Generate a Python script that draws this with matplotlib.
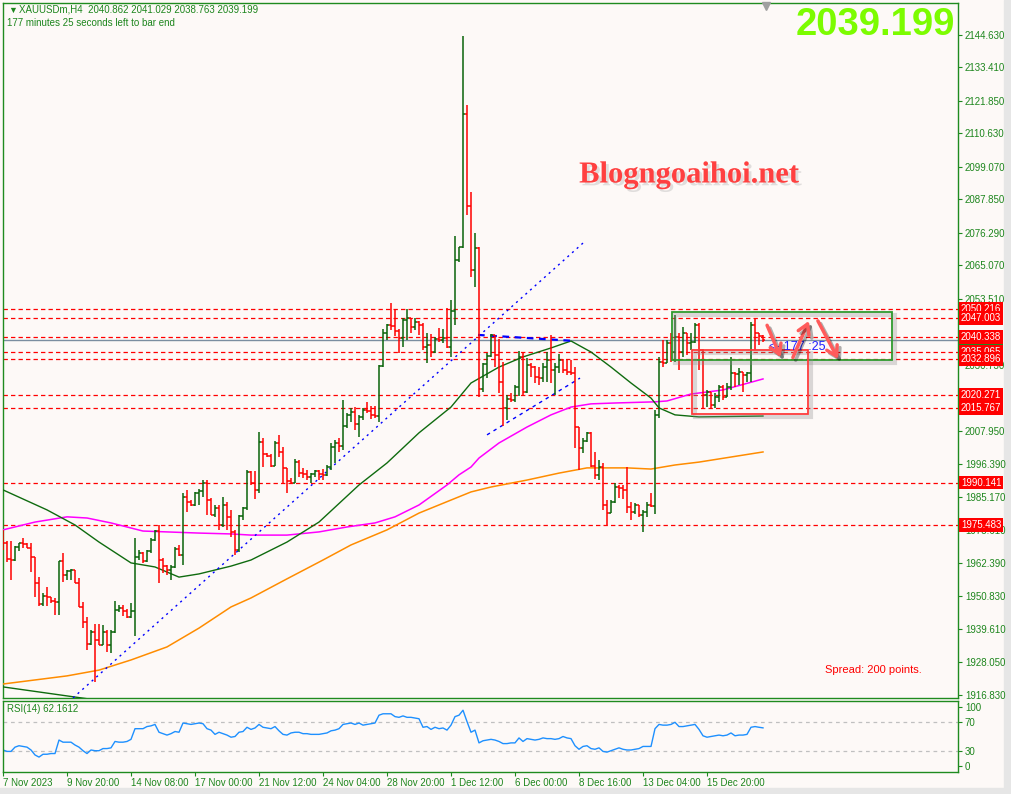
import matplotlib
matplotlib.use('Agg')
import matplotlib.pyplot as plt
import matplotlib.patheffects as pe
from matplotlib.collections import LineCollection
from matplotlib.patches import Rectangle, FancyArrowPatch

plt.rcParams['font.family'] = ['Liberation Sans', 'DejaVu Sans']

# ---- XAUUSDm H4 bars (one per 4h, oldest first) ----
first_open = 1972.04
highs = [
    1973.76, 1969.97, 1969.97, 1968.25, 1969.28, 1971.0, 1969.28, 1969.28, 1964.45, 1957.54,
    1952.02, 1954.09, 1950.64, 1950.29, 1963.07, 1965.83, 1960.01, 1960.35, 1960.01, 1957.19,
    1948.91, 1943.73, 1939.25, 1941.32, 1941.32, 1940.97, 1939.25, 1939.25, 1949.25, 1947.87,
    1947.87, 1946.49, 1948.56, 1971.0, 1966.86, 1966.17, 1966.86, 1971.0, 1973.76, 1975.49,
    1964.1, 1961.69, 1961.69, 1967.9, 1968.59, 1986.54, 1987.57, 1984.12, 1986.88, 1987.92,
    1991.03, 1991.03, 1984.81, 1982.39, 1982.39, 1985.16, 1983.43, 1980.67, 1973.76, 1978.94,
    1981.7, 1994.48, 1994.13, 1994.13, 2007.59, 2005.52, 2000.34, 1999.99, 2004.48, 2006.55,
    2002.42, 1995.17, 1991.72, 1998.27, 1997.92, 1995.17, 1994.48, 1993.44, 1994.48, 1994.48,
    1994.82, 1996.2, 2003.79, 2004.83, 2005.52, 2018.64, 2014.15, 2015.88, 2016.22, 2013.46,
    2015.88, 2017.95, 2016.57, 2016.57, 2030.72, 2043.15, 2044.88, 2052.12, 2049.71, 2043.15,
    2046.95, 2050.05, 2046.95, 2046.95, 2045.91, 2045.22, 2041.77, 2041.42, 2040.39, 2043.49,
    2043.15, 2050.4, 2053.16, 2075.24, 2071.45, 2144.28, 2120.46, 2090.43, 2076.28, 2071.45,
    2031.41, 2034.87, 2041.42, 2039.36, 2039.7, 2031.76, 2020.37, 2021.06, 2023.82, 2035.56,
    2034.87, 2033.14, 2031.41, 2030.37, 2030.03, 2031.41, 2035.21, 2041.08, 2031.41, 2034.52,
    2032.79, 2032.79, 2032.45, 2030.03, 2009.32, 2005.52, 2007.59, 2007.59, 2000.69, 1997.92,
    1996.89, 1984.12, 1984.12, 1990.0, 1989.3, 1989.3, 1995.51, 1983.43, 1983.09, 1982.39,
    1980.67, 1983.43, 1986.54, 2015.19, 2033.48, 2039.36, 2039.36, 2041.77, 2047.98, 2041.77,
    2043.84, 2039.36, 2041.77, 2045.22, 2045.22, 2036.2, 2022.09, 2021.06, 2021.06, 2023.82,
    2023.82, 2024.51, 2033.48, 2028.3, 2029.68, 2027.96, 2028.3, 2045.57, 2046.95, 2041.77,
    2041.03]
lows = [
    1966.86, 1962.72, 1956.5, 1963.07, 1966.52, 1967.55, 1967.55, 1959.27, 1950.64, 1947.53,
    1947.53, 1947.53, 1948.56, 1944.42, 1944.42, 1955.82, 1956.5, 1956.5, 1955.47, 1947.18,
    1939.94, 1932.34, 1934.16, 1921.29, 1934.07, 1934.07, 1931.65, 1931.31, 1938.21, 1945.46,
    1944.08, 1943.39, 1943.39, 1937.17, 1963.41, 1962.38, 1962.72, 1965.83, 1969.97, 1955.47,
    1958.92, 1958.23, 1956.5, 1960.65, 1964.79, 1961.69, 1979.98, 1982.05, 1982.05, 1982.39,
    1985.16, 1978.94, 1978.94, 1978.25, 1973.76, 1974.8, 1973.76, 1971.35, 1965.14, 1966.17,
    1977.22, 1980.67, 1989.3, 1984.47, 1986.54, 1995.51, 1998.96, 1995.51, 1995.86, 1998.96,
    1990.0, 1986.54, 1989.65, 1990.0, 1992.06, 1991.72, 1991.03, 1990.0, 1992.06, 1991.03,
    1991.03, 1992.41, 1994.48, 1996.89, 2000.69, 2001.38, 2008.98, 2011.05, 2008.29, 2005.86,
    2011.74, 2014.15, 2012.08, 2012.43, 2011.05, 2030.03, 2039.36, 2042.8, 2040.73, 2034.87,
    2036.94, 2039.36, 2041.77, 2042.8, 2041.08, 2035.9, 2031.41, 2033.48, 2034.87, 2038.67,
    2038.32, 2036.6, 2033.48, 2044.53, 2066.26, 2071.11, 2082.49, 2061.09, 2057.64, 2019.68,
    2021.4, 2026.24, 2033.48, 2030.03, 2021.06, 2009.67, 2011.74, 2017.95, 2017.95, 2020.02,
    2020.37, 2021.06, 2026.58, 2024.51, 2023.82, 2024.85, 2024.85, 2024.51, 2020.37, 2027.96,
    2027.96, 2027.27, 2027.27, 2002.07, 1994.48, 2000.34, 2004.14, 1995.51, 1991.37, 1991.03,
    1980.67, 1975.49, 1979.98, 1983.09, 1984.81, 1984.47, 1979.63, 1977.22, 1979.29, 1978.25,
    1973.07, 1978.25, 1981.7, 1979.29, 2012.43, 2030.03, 2031.76, 2031.76, 2031.76, 2028.99,
    2033.48, 2034.18, 2035.9, 2038.32, 2028.99, 2015.88, 2016.22, 2015.88, 2015.88, 2017.95,
    2018.64, 2019.68, 2022.09, 2023.13, 2023.82, 2021.4, 2024.85, 2024.85, 2035.9, 2037.63,
    2038.76]
closes = [
    1969.28, 1963.76, 1963.41, 1967.9, 1969.28, 1968.93, 1967.55, 1964.45, 1955.47, 1948.22,
    1950.98, 1950.64, 1949.25, 1948.91, 1963.07, 1958.23, 1959.66, 1960.01, 1955.47, 1947.18,
    1942.01, 1934.5, 1938.55, 1935.79, 1934.07, 1938.55, 1934.07, 1938.55, 1946.15, 1946.84,
    1945.8, 1943.73, 1945.8, 1964.45, 1965.83, 1963.07, 1966.52, 1970.31, 1973.42, 1963.41,
    1961.34, 1960.01, 1961.0, 1967.21, 1965.14, 1985.16, 1983.43, 1982.39, 1986.54, 1987.23,
    1990.0, 1984.12, 1978.94, 1981.36, 1975.49, 1982.39, 1978.25, 1973.07, 1966.86, 1978.6,
    1981.36, 1993.79, 1990.0, 1987.57, 2004.14, 1999.99, 1999.3, 1995.86, 2003.79, 2000.69,
    1995.17, 1990.69, 1990.0, 1997.23, 1993.44, 1993.1, 1992.06, 1993.1, 1994.13, 1993.1,
    1992.75, 1995.51, 2002.42, 2003.79, 2002.76, 2009.67, 2013.46, 2014.5, 2010.36, 2012.77,
    2015.19, 2014.84, 2013.46, 2013.12, 2030.37, 2041.77, 2044.53, 2044.19, 2042.46, 2040.04,
    2046.26, 2046.95, 2043.84, 2045.57, 2044.53, 2036.94, 2037.63, 2035.21, 2039.7, 2039.36,
    2040.04, 2036.94, 2049.36, 2066.95, 2071.45, 2117.36, 2085.6, 2063.51, 2071.11, 2022.44,
    2031.07, 2033.83, 2041.08, 2034.18, 2024.85, 2015.88, 2018.99, 2018.64, 2023.13, 2033.48,
    2021.4, 2030.72, 2030.03, 2026.58, 2026.24, 2030.03, 2032.45, 2028.99, 2030.03, 2032.45,
    2028.99, 2028.3, 2027.96, 2009.32, 2002.07, 2004.48, 2007.25, 1995.86, 1992.75, 1995.51,
    1982.39, 1979.63, 1983.43, 1988.61, 1988.27, 1987.57, 1981.7, 1979.98, 1982.39, 1978.94,
    1979.98, 1982.39, 1982.05, 2013.46, 2031.76, 2031.41, 2038.32, 2035.21, 2040.39, 2035.21,
    2041.77, 2038.32, 2038.67, 2044.53, 2035.9, 2020.37, 2021.4, 2016.91, 2019.68, 2023.13,
    2019.68, 2023.13, 2027.96, 2027.61, 2028.3, 2027.27, 2027.96, 2044.53, 2041.77, 2040.86,
    2039.2]

rsi = [
    31, 29, 29, 35, 37, 36, 35, 31, 24, 21,
    25, 25, 26, 26, 45, 42, 42, 42, 38, 35,
    30, 26, 31, 30, 30, 33, 33, 34, 43, 42,
    42, 43, 46, 61, 61, 61, 64, 65, 67, 56,
    54, 52, 54, 57, 56, 69, 68, 67, 68, 69,
    68, 61, 59, 53, 56, 54, 52, 49, 50, 56,
    57, 63, 60, 62, 67, 63, 62, 61, 64, 58,
    53, 52, 55, 56, 56, 54, 54, 53, 53, 53,
    54, 55, 58, 59, 61, 67, 68, 69, 67, 69,
    66, 67, 68, 69, 80, 82, 82, 82, 78, 77,
    79, 77, 77, 76, 75, 63, 64, 60, 63, 61,
    62, 59, 66, 78, 80, 87, 71, 56, 59, 41,
    44, 45, 46, 45, 43, 40, 40, 41, 41, 48,
    43, 47, 46, 45, 46, 48, 47, 47, 46, 47,
    50, 48, 47, 37, 32, 36, 37, 33, 32, 34,
    29, 28, 30, 32, 34, 32, 31, 31, 32, 33,
    36, 36, 36, 61, 67, 66, 66, 67, 70, 64,
    64, 65, 66, 67, 60, 51, 49, 50, 51, 52,
    51, 52, 55, 51, 52, 52, 53, 63, 64, 63,
    62.16]

# moving averages (bar index, value)
ma_green_x = [0, 11, 18, 24, 32, 38, 44, 49, 57, 62, 71, 79, 89, 96, 104, 112, 117, 124, 130,
              137, 142, 147, 152, 157, 162, 164, 168, 174, 190]
ma_green = [1987.6, 1980.7, 1975.5, 1969.6, 1962.4, 1961.0, 1957.5, 1958.6, 1961.3, 1963.4,
            1969.6, 1976.5, 1989.3, 1996.9, 2007.3, 2016.2, 2024.5, 2030.0, 2033.5, 2036.6,
            2039.0, 2035.2, 2030.0, 2024.5, 2019.3, 2015.9, 2013.5, 2012.8, 2013.1]
ma_green2_x = [0, 18, 30]
ma_green2 = [1919.6, 1916.1, 1913.8]
ma_magenta_x = [0, 8, 16, 21, 27, 35, 41, 49, 57, 62, 71, 79, 86, 93, 98, 104, 111, 114, 117,
                119, 124, 131, 137, 142, 147, 153, 163, 166, 172, 180, 190]
ma_magenta = [1973.8, 1976.5, 1978.3, 1977.9, 1976.2, 1973.4, 1973.1, 1972.7, 1972.4, 1972.0,
              1972.0, 1973.1, 1974.8, 1976.2, 1978.3, 1982.4, 1989.3, 1992.8, 1995.5, 1998.6,
              2003.8, 2009.3, 2013.5, 2016.2, 2017.3, 2017.6, 2018.0, 2018.3, 2020.7, 2022.1,
              2025.9]
ma_orange_x = [0, 8, 16, 24, 32, 41, 49, 57, 62, 71, 80, 87, 96, 104, 112, 117, 122, 131, 139,
               146, 156, 162, 168, 174, 190]
ma_orange = [1920.6, 1922.0, 1923.4, 1925.4, 1928.9, 1933.4, 1939.9, 1947.2, 1950.3, 1956.9,
             1963.4, 1968.6, 1973.8, 1979.6, 1984.1, 1986.9, 1988.6, 1991.0, 1993.4, 1995.2,
             1995.2, 1994.8, 1996.2, 1997.2, 2000.7]

# drawn objects
levels = [2050.216, 2047.003, 2040.338, 2035.065, 2032.896, 2020.271, 2015.767, 1990.141, 1975.483]
bid = 2039.199
trend_dot = ([17.5, 145], [1915.8, 2072.8])
trend_dash = ([121, 144.25], [2006.6, 2026.2])
trend_flat = ([118.75, 143], [2041.1, 2039.0])
green_box = (167.2, 222.2, 2032.45, 2048.9)
red_box = (172.3, 201.3, 2013.7, 2035.9)
arrows = [((190.75, 2045.3), (194.7, 2032.45)),
          ((197.2, 2032.45), (201.75, 2046.8)),
          ((203.4, 2046.8), (209.1, 2031.9))]

price_ticks = [2144.63, 2133.41, 2121.85, 2110.63, 2099.07, 2087.85, 2076.29, 2065.07, 2053.51,
               2041.95, 2030.73, 2019.17, 2007.95, 1996.39, 1985.17, 1973.61, 1962.39, 1950.83,
               1939.61, 1928.05, 1916.83]
hidden_ticks = [2041.95, 2019.17]   # covered by the level labels on the chart
time_pos = [0, 16, 32, 48, 64, 80, 96, 112, 128, 144, 160, 176]
time_labels = ['7 Nov 2023', '9 Nov 20:00', '14 Nov 08:00', '17 Nov 00:00', '21 Nov 12:00',
               '24 Nov 04:00', '28 Nov 20:00', '1 Dec 12:00', '6 Dec 00:00', '8 Dec 16:00',
               '13 Dec 04:00', '15 Dec 20:00']

BG = '#fdf9f7'
FRAME = '#1f8b1f'
TXT = '#1d861d'
BULL = '#0a640a'
BEAR = '#ff0000'

W, H = 1011, 794
fig = plt.figure(figsize=(W / 100, H / 100), dpi=100, facecolor=BG)
ax = fig.add_axes([2.5 / W, 1 - 698 / H, 955.5 / W, 695 / H], facecolor=BG)
ar = fig.add_axes([2.5 / W, 1 - 772 / H, 955.5 / W, 71 / H], facecolor=BG)

for a in (ax, ar):
    a.set_xlim(-0.125, 238.75)
    for s in a.spines.values():
        s.set_color(FRAME)
        s.set_linewidth(1.0)
ax.set_ylim(1915.77, 2155.67)
ar.set_ylim(0, 100)

# price axis on the right
ax.yaxis.tick_right()
ax.set_yticks(price_ticks)
ax.set_yticklabels(['' if v in hidden_ticks else '%.3f' % v for v in price_ticks])
ax.tick_params(axis='y', direction='out', length=3, width=0.8, color=FRAME,
               labelsize=7, labelcolor=TXT, pad=2)
ax.set_xticks([])

# level lines and bid line
for lv in levels:
    ax.axhline(lv, color='#ff0000', lw=0.9, ls=(0, (3.5, 2.5)), zorder=2)
ax.axhline(bid, color='#7b8ea0', lw=1.0, zorder=2.5)

# moving averages
ax.plot(ma_orange_x, ma_orange, color='#ff8c00', lw=1.1, zorder=3)
ax.plot(ma_magenta_x, ma_magenta, color='#ff00ff', lw=1.1, zorder=3)
ax.plot(ma_green_x, ma_green, color='#0f6b0f', lw=1.0, zorder=3)
ax.plot(ma_green2_x, ma_green2, color='#0f6b0f', lw=1.0, zorder=3)

# trendlines
ax.plot(*trend_dot, color='#0000ff', lw=1.0, ls=(0, (1.5, 3)), zorder=3)
ax.plot(*trend_dash, color='#0000ff', lw=1.0, ls=(0, (2.5, 3)), zorder=3)
ax.plot(*trend_flat, color='#0000ff', lw=1.6, ls=(0, (3, 2.5)), zorder=3)

# OHLC bars
opens = [first_open] + closes[:-1]
segs, cols = [], []
for i, (o, h, l, c) in enumerate(zip(opens, highs, lows, closes)):
    col = BULL if c >= o else BEAR
    segs.append([(i, min(l, o, c)), (i, max(h, o, c))])
    segs.append([(i - 0.45, o), (i, o)])
    segs.append([(i, c), (i + 0.45, c)])
    cols += [col] * 3
ax.add_collection(LineCollection(segs, colors=cols, linewidths=1.1, zorder=4))

# rectangles with soft shadow
shadow = [pe.Stroke(offset=(2, -2), linewidth=3, foreground='#888888', alpha=0.3), pe.Normal()]
for (x0, x1, y0, y1), ec in ((green_box, '#2e9a2e'), (red_box, '#ff3b3b')):
    ax.add_patch(Rectangle((x0, y0), x1 - x0, y1 - y0, fill=False, ec=ec, lw=1.3,
                           zorder=5, path_effects=shadow))

# timer text and arrows
ax.text(191.5, 2036.9, '<- 177 :25', color='#2020ff', fontsize=9, va='center', zorder=5)
for start, end in arrows:
    ax.add_patch(FancyArrowPatch(start, end, arrowstyle='->,head_length=0.5,head_width=0.3',
                                 mutation_scale=14, lw=2.5, color='#ff5b5b', zorder=6,
                                 path_effects=[pe.SimpleLineShadow(offset=(2, -2), alpha=0.3),
                                               pe.Normal()]))

# price labels on the axis
ytr = ax.get_yaxis_transform()
ax.text(1.003, bid, '%.3f' % bid, transform=ytr, ha='left', va='center', fontsize=7,
        color='white', clip_on=False, zorder=6,
        bbox=dict(boxstyle='square,pad=0.2', fc='#1e8c1e', ec='none'))
for lv in levels:
    ax.text(1.003, lv, '%.3f' % lv, transform=ytr, ha='left', va='center', fontsize=7,
            color='white', clip_on=False, zorder=7,
            bbox=dict(boxstyle='square,pad=0.2', fc='#ff0000', ec='none'))

# chart shift marker
ax.plot([190.75], [1 - 3 / 695], marker='v', color='#a0a0a0', ms=6,
        transform=ax.get_xaxis_transform(), clip_on=False, zorder=6)

# RSI panel
ar.axhline(70, color='#c0c0c0', lw=0.9, ls=(0, (3, 3)))
ar.axhline(30, color='#c0c0c0', lw=0.9, ls=(0, (3, 3)))
ar.plot(range(len(rsi)), rsi, color='#1e90ff', lw=1.0)
ar.yaxis.tick_right()
ar.set_yticks([91.4, 70, 30, 8.6])
ar.set_yticklabels(['100', '70', '30', '0'])
ar.tick_params(axis='y', direction='out', length=3, width=0.8, color=FRAME,
               labelsize=7, labelcolor=TXT, pad=2)
ar.set_xticks(time_pos)
ar.set_xticklabels(time_labels)
ar.tick_params(axis='x', direction='out', length=3, width=0.8, color=FRAME,
               labelsize=7, labelcolor=TXT, pad=1.5)
for lab in ar.get_xticklabels():
    lab.set_ha('left')
ar.text(0.0047, 0.887, 'RSI(14) 62.1612', transform=ar.transAxes, fontsize=7,
        color=TXT, va='center')

# header texts
fig.text(8 / W, 1 - 10 / H, '▼', fontsize=6.5, color=TXT, va='center')
fig.text(19 / W, 1 - 10 / H, 'XAUUSDm,H4  2040.862 2041.029 2038.763 2039.199',
         fontsize=7, color=TXT, va='center')
fig.text(7 / W, 1 - 23 / H, '177 minutes 25 seconds left to bar end',
         fontsize=7, color=TXT, va='center')
fig.text(955 / W, 1 - 25 / H, '2039.199', ha='right', va='center', fontsize=27.5,
         fontweight='bold', color='#7cfc00')
fig.text(689 / W, 1 - 175 / H, 'Blogngoaihoi.net', ha='center', va='center', fontsize=22,
         fontweight='bold', family='Liberation Serif', color='#ff4040',
         path_effects=[pe.withSimplePatchShadow(offset=(2, -2), shadow_rgbFace='#aaaaaa',
                                                alpha=0.35)])
fig.text(825 / W, 1 - 670 / H, 'Spread: 200 points.', fontsize=8, color='#ff0000',
         va='center')

# grey window edges
fig.patches.append(Rectangle((1004 / W, 0), 7 / W, 1, transform=fig.transFigure,
                             color='#e6e6e6', zorder=-1))
fig.patches.append(Rectangle((0, 0), 1, 6 / H, transform=fig.transFigure,
                             color='#e6e6e6', zorder=-1))

fig.savefig('out.png', dpi=100, facecolor=BG)
